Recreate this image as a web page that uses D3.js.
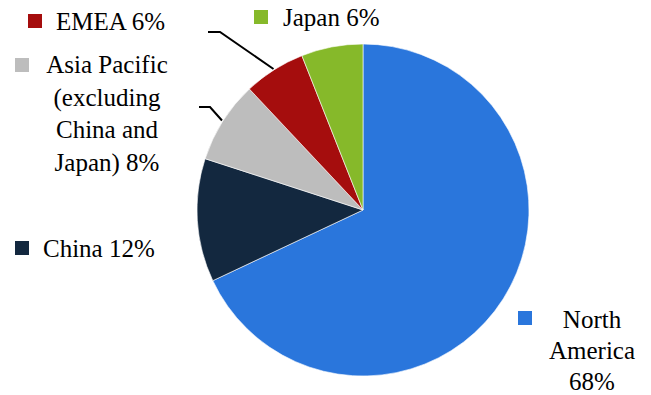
<!DOCTYPE html>
<html>
<head>
<meta charset="utf-8">
<script src="https://cdn.jsdelivr.net/npm/d3@7"></script>
</head>
<body style="margin:0">
<div id="chart"></div>
<script>
const regions = ['North America', 'China', 'Asia Pacific (excluding China and Japan)', 'EMEA', 'Japan'];
const shares = [68, 12, 8, 6, 6];
const colors = ['#2a76dc', '#13283f', '#bdbdbd', '#a50d0d', '#86b92a'];
// label text split in lines, as in the original
const labelLines = [
    ['North', 'America', '68%'],
    ['China 12%'],
    ['Asia Pacific', '(excluding', 'China and', 'Japan) 8%'],
    ['EMEA 6%'],
    ['Japan 6%']
];

const width = 651, height = 395;
const cx = 363, cy = 210, r = 166;

const svg = d3.select('#chart').append('svg')
    .attr('width', width)
    .attr('height', height);

const color = d3.scaleOrdinal().domain(regions).range(colors);

const pie = d3.pie().sort(null).value(d => d.value);
const arc = d3.arc().innerRadius(0).outerRadius(r);
const data = regions.map((k, i) => ({ key: k, value: shares[i], lines: labelLines[i] }));
const arcs = pie(data);

const g = svg.append('g').attr('transform', `translate(${cx},${cy})`);
g.selectAll('path')
    .data(arcs)
    .enter().append('path')
    .attr('d', arc)
    .attr('fill', d => color(d.data.key))
    .attr('stroke', '#fff')
    .attr('stroke-width', 0.6);

// label placement (square, text anchor, baselines)
const labelPos = [
    { sq: [518, 311], tx: 592, anchor: 'middle', y0: 328, dy: 31 },
    { sq: [15, 241], tx: 43, anchor: 'start', y0: 257, dy: 32 },
    { sq: [15, 58], tx: 107, anchor: 'middle', y0: 73, dy: 32.5 },
    { sq: [28, 14], tx: 56, anchor: 'start', y0: 30, dy: 32 },
    { sq: [254, 10], tx: 283, anchor: 'start', y0: 26, dy: 32 }
];

arcs.forEach((a, i) => {
    const p = labelPos[i];
    svg.append('rect')
        .attr('x', p.sq[0]).attr('y', p.sq[1])
        .attr('width', 14).attr('height', 14)
        .attr('fill', color(a.data.key));
    a.data.lines.forEach((ln, j) => {
        svg.append('text')
            .attr('x', p.tx)
            .attr('y', p.y0 + j * p.dy)
            .attr('text-anchor', p.anchor)
            .attr('font-family', 'Times New Roman')
            .attr('font-size', 25)
            .text(ln);
    });
});

// leader lines for the two small slices on the upper left
function leader(i, x0, y0, x1) {
    const a = arcs[i];
    const mid = (a.startAngle + a.endAngle) / 2;
    const ex = cx + Math.sin(mid) * (r + 1);
    const ey = cy - Math.cos(mid) * (r + 1);
    svg.append('path')
        .attr('d', `M${x0},${y0}H${x1}L${ex},${ey}`)
        .attr('fill', 'none')
        .attr('stroke', '#000')
        .attr('stroke-width', 2);
}
leader(3, 208, 32, 220);
leader(2, 199, 107, 210);
</script>
</body>
</html>
